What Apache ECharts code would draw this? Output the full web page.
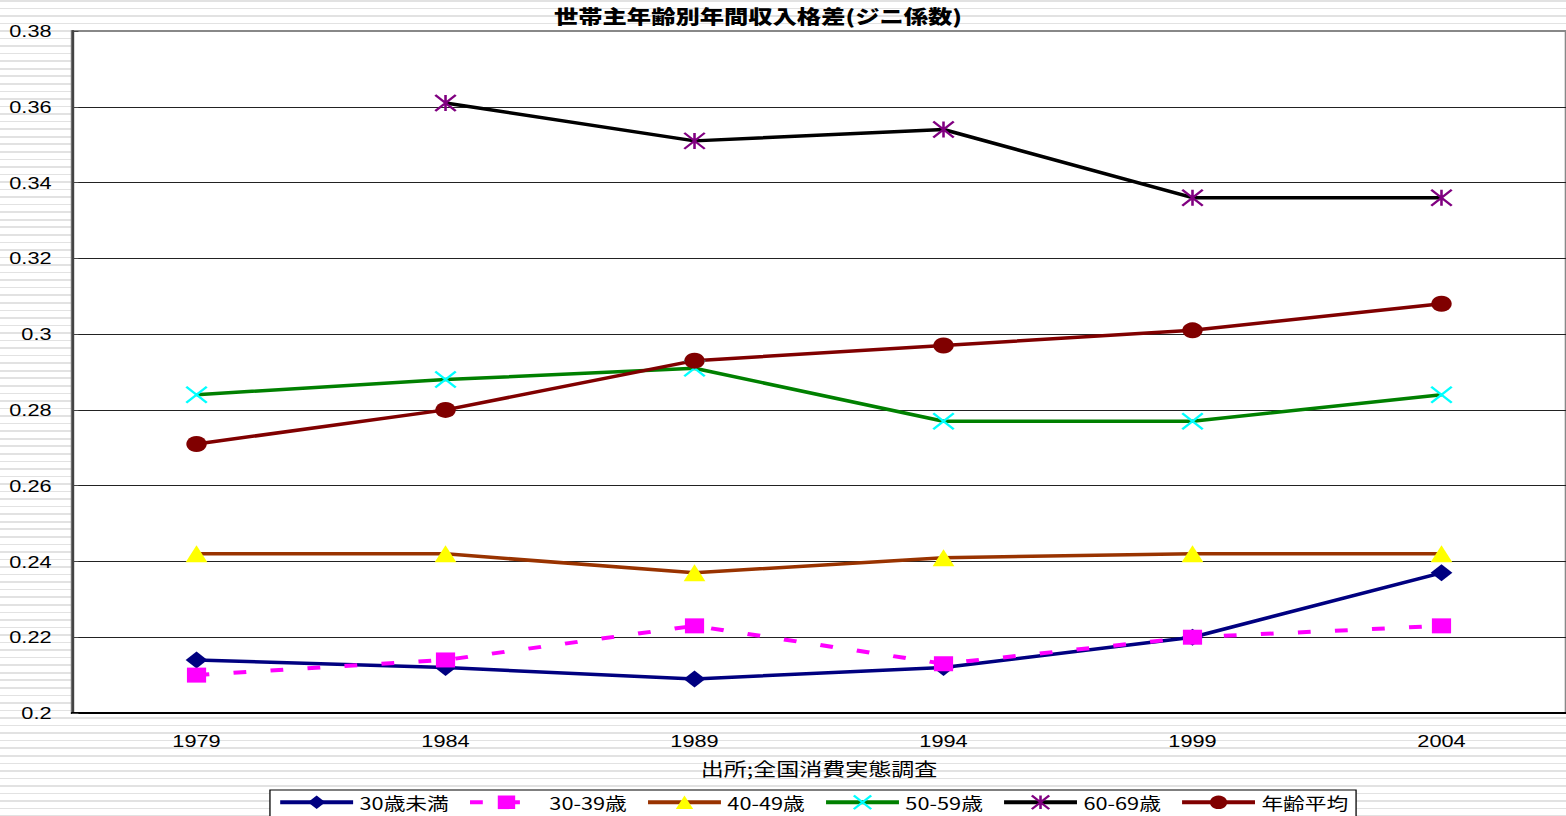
<!DOCTYPE html>
<html>
<head>
<meta charset="utf-8">
<script src="https://cdn.jsdelivr.net/npm/echarts@6/dist/echarts.min.js"></script>
<style>
html,body{margin:0;padding:0;width:1566px;height:816px;overflow:hidden;
background:repeating-linear-gradient(to bottom,#e2e2e2 0px,#e2e2e2 1.6px,#ffffff 1.6px,#ffffff 7.55px);}
#chart{width:1224px;height:816px;transform:scaleX(1.2794);transform-origin:0 0;}
</style>
</head>
<body>
<div id="chart"></div>
<script>
const categories = ['1979','1984','1989','1994','1999','2004'];
const seriesNames = ['30歳未満','30-39歳','40-49歳','50-59歳','60-69歳','年齢平均'];
const under30 = [0.214,0.212,0.209,0.212,0.220,0.237];
const age30s  = [0.210,0.214,0.223,0.213,0.220,0.223];
const age40s  = [0.242,0.242,0.237,0.241,0.242,0.242];
const age50s  = [0.284,0.288,0.291,0.277,0.277,0.284];
const age60s  = [null,0.361,0.351,0.354,0.336,0.336];
const average = [0.271,0.280,0.293,0.297,0.301,0.308];
const yTicks = {min:0.2, max:0.38, interval:0.02};

const chart = echarts.init(document.getElementById('chart'), null, {renderer:'svg'});
const jp = '"Noto Sans CJK JP", sans-serif';
const lat = '"Liberation Sans", Arial, sans-serif';
function mk(name, data, lineColor, markColor, symbol, size, extra){
  return Object.assign({
    name:name, type:'line', data:data, symbol:symbol, symbolSize:size,
    showAllSymbol:true,
    lineStyle:{color:lineColor, width:3.5},
    itemStyle:{color:markColor, borderColor:markColor, borderWidth:0},
    emphasis:{disabled:true}
  }, extra||{});
}
const option = {
  animation:false,
  title:{text:'世帯主年齢別年間収入格差(ジニ係数)', left:428, top:1,
    textStyle:{fontFamily:jp, fontSize:19, fontWeight:900, color:'#000'}},
  grid:{left:56.3, top:31, width:1170, height:682, show:true,
    backgroundColor:'#fff', borderColor:'#888', borderWidth:2},
  legend:{left:211, top:790, padding:[3,6,8,6], itemGap:14.5, itemWidth:57, itemHeight:17,
    backgroundColor:'#fff', borderColor:'#000', borderWidth:1,
    lineStyle:{width:4},
    textStyle:{fontFamily:jp, fontSize:17, lineHeight:17, color:'#000'}, data:seriesNames},
  xAxis:{type:'category', data:categories, boundaryGap:true,
    name:'出所;全国消費実態調査', nameLocation:'middle', nameGap:46,
    nameTextStyle:{fontFamily:jp, fontSize:18, color:'#000'},
    axisLine:{lineStyle:{color:'#000', width:2}},
    axisTick:{inside:true, length:7, lineStyle:{color:'#000'}},
    axisLabel:{fontFamily:lat, fontSize:17, color:'#000', margin:19}},
  yAxis:{type:'value', min:yTicks.min, max:yTicks.max, interval:yTicks.interval,
    axisLine:{show:true, lineStyle:{color:'#444', width:2}},
    axisTick:{show:true, inside:true, length:5, lineStyle:{color:'#444'}},
    axisLabel:{fontFamily:lat, fontSize:17, color:'#000', margin:16},
    splitLine:{show:true, showMaxLine:false, showMinLine:false, lineStyle:{color:'#222', width:1}}},
  series:[
    mk(seriesNames[0], under30, '#000080', '#000080', 'diamond', 17),
    mk(seriesNames[1], age30s, '#FF00FF', '#FF00FF', 'rect', 15, {lineStyle:{color:'#FF00FF', width:4, type:[10,19]}}),
    mk(seriesNames[2], age40s, '#993300', '#FFFF00', 'triangle', 17),
    mk(seriesNames[3], age50s, '#008000', '#00FFFF', 'path://M0,0L16,16M16,0L0,16', 16,
       {itemStyle:{color:'none', borderColor:'#00FFFF', borderWidth:2}}),
    mk(seriesNames[4], age60s, '#000000', '#800080', 'path://M0,0L16,15M16,0L0,15M8,0L8,15', 16,
       {itemStyle:{color:'none', borderColor:'#800080', borderWidth:2}}),
    mk(seriesNames[5], average, '#800000', '#800000', 'circle', 16)
  ]
};
chart.setOption(option);
</script>
</body>
</html>
